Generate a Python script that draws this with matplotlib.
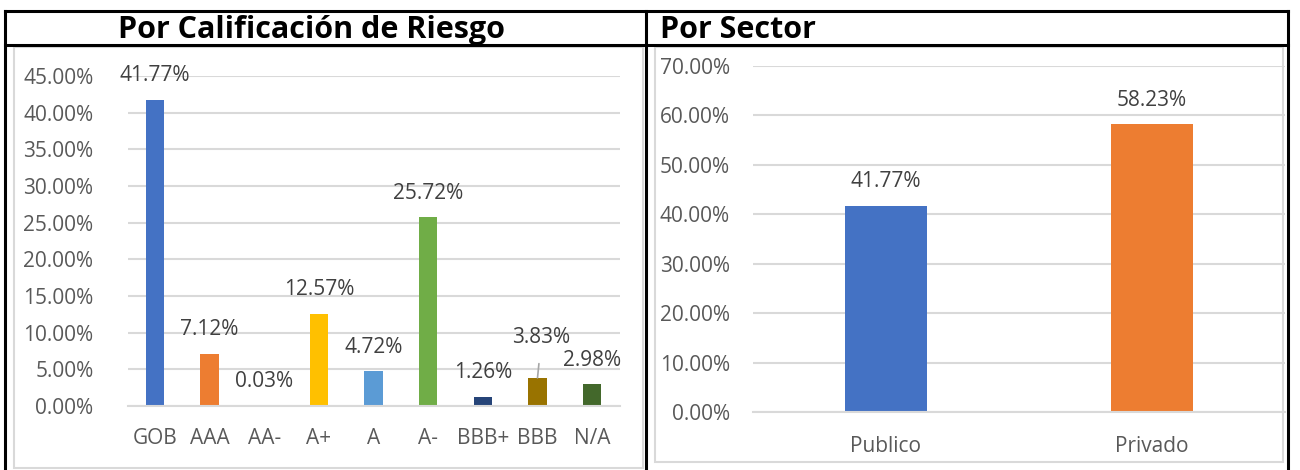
import matplotlib
matplotlib.use("Agg")
import matplotlib.pyplot as plt
from matplotlib.patches import Rectangle
from matplotlib.lines import Line2D

# ---- data ----
rating_categories = ["GOB", "AAA", "AA-", "A+", "A", "A-", "BBB+", "BBB", "N/A"]
rating_values = [41.77, 7.12, 0.03, 12.57, 4.72, 25.72, 1.26, 3.83, 2.98]
rating_colors = ["#4472C4", "#ED7D31", "#A5A5A5", "#FFC000", "#5B9BD5",
                 "#70AD47", "#264478", "#997300", "#43682B"]
rating_yticks = [0, 5, 10, 15, 20, 25, 30, 35, 40, 45]

sector_categories = ["Publico", "Privado"]
sector_values = [41.77, 58.23]
sector_colors = ["#4472C4", "#ED7D31"]
sector_yticks = [0, 10, 20, 30, 40, 50, 60, 70]

title_left = "Por Calificación de Riesgo"
title_right = "Por Sector"

W, H = 1300, 470
FONT = ["Open Sans", "DejaVu Sans"]
plt.rcParams['font.family'] = FONT
FS = 15

fig = plt.figure(figsize=(W / 100, H / 100), dpi=100)


def fx(x):
    return x / W


def fy(y):
    return 1 - y / H


def ax_rect(x0, x1, ytop, ybot):
    return [fx(x0), fy(ybot), fx(x1) - fx(x0), (ybot - ytop) / H]


# ---- frames ----
gray = "#D9D9D9"
for (x0, x1, y0, y1) in [(14, 643, 47, 468), (655, 1283, 47, 462)]:
    fig.add_artist(Rectangle((fx(x0), fy(y1)), fx(x1) - fx(x0), (y1 - y0) / H,
                             transform=fig.transFigure, fill=False,
                             edgecolor=gray, linewidth=1.5, zorder=0))

black_lines = [
    ((5, 1288), (11, 11)),
    ((5, 1288), (45, 45)),
    ((5, 5), (11, 470)),
    ((646, 646), (11, 470)),
    ((1288, 1288), (11, 470)),
]
for xs, ys in black_lines:
    fig.add_artist(Line2D([fx(xs[0]), fx(xs[1])], [fy(ys[0]), fy(ys[1])],
                          transform=fig.transFigure, color="black", linewidth=2.2))

fig.text(fx(312), fy(38), title_left, ha="center", va="baseline",
         fontsize=22, fontweight="bold", color="black")
fig.text(fx(660), fy(38), title_right, ha="left", va="baseline",
         fontsize=22, fontweight="bold", color="black")


def style_axes(ax, yticks, ylim_top, ypad):
    ax.set_ylim(0, ylim_top)
    ax.set_yticks(yticks)
    ax.set_yticklabels([f"{v:.2f}%" for v in yticks])
    ax.grid(axis="y", color=gray, linewidth=1.5)
    ax.set_axisbelow(True)
    for s in ["top", "right", "left"]:
        ax.spines[s].set_visible(False)
    ax.spines["bottom"].set_color(gray)
    ax.spines["bottom"].set_linewidth(1.5)
    ax.tick_params(axis="both", length=0, labelsize=FS, colors="#595959")
    ax.tick_params(axis="y", pad=ypad)
    ax.tick_params(axis="x", pad=16)
    ax.patch.set_alpha(0)


# ---- left chart ----
axL = fig.add_axes(ax_rect(127.5, 619.5, 76, 406))
xL = list(range(len(rating_categories)))
axL.bar(xL, rating_values, width=0.33, color=rating_colors)
axL.set_xlim(-0.5, len(rating_categories) - 0.5)
axL.set_xticks(xL)
axL.set_xticklabels(rating_categories)
style_axes(axL, rating_yticks, 45, 24.5)

for i, v in enumerate(rating_values):
    if rating_categories[i] == "BBB":
        axL.annotate(f"{v:.2f}%", xy=(i, v), xytext=(4, 40), textcoords="offset pixels",
                     ha="center", va="center", fontsize=FS, color="#404040",
                     arrowprops=dict(arrowstyle="-", color="#A6A6A6", lw=1.2,
                                     shrinkA=9, shrinkB=0))
    else:
        axL.annotate(f"{v:.2f}%", xy=(i, v), xytext=(0, 24), textcoords="offset pixels",
                     ha="center", va="center", fontsize=FS, color="#404040")

# ---- right chart ----
axR = fig.add_axes(ax_rect(753, 1285, 66, 412))
xR = list(range(len(sector_categories)))
axR.bar(xR, sector_values, width=0.31, color=sector_colors)
axR.set_xlim(-0.5, len(sector_categories) - 0.5)
axR.set_xticks(xR)
axR.set_xticklabels(sector_categories)
style_axes(axR, sector_yticks, 70, 16.5)
axR.tick_params(axis="x", pad=17.5)
for i, v in enumerate(sector_values):
    axR.annotate(f"{v:.2f}%", xy=(i, v), xytext=(0, 24), textcoords="offset pixels",
                 ha="center", va="center", fontsize=FS, color="#404040")

fig.savefig("out.png", dpi=100)
